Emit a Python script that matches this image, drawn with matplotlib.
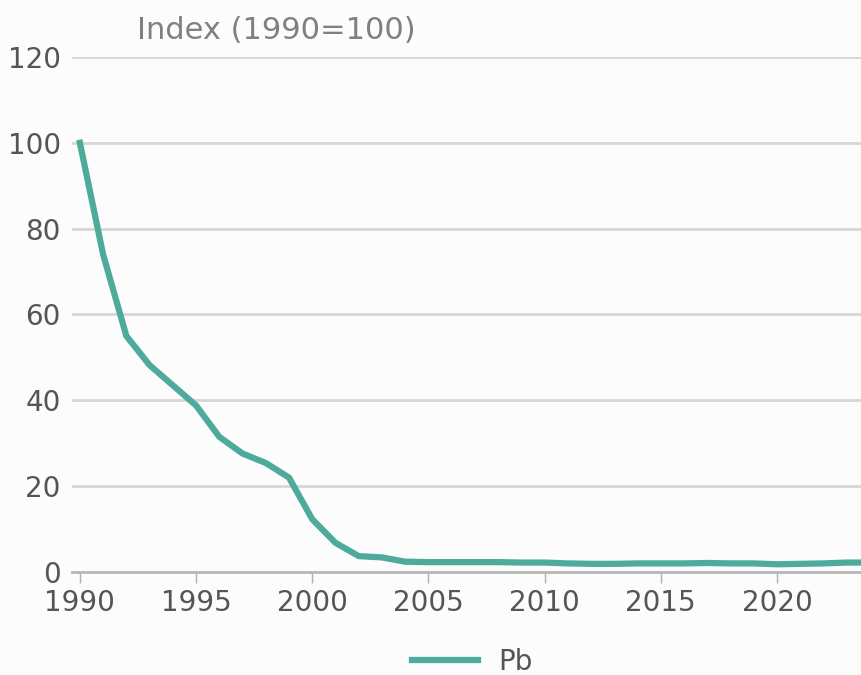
import matplotlib.pyplot as plt

years = list(range(1990, 2025))
pb = [100, 74, 55, 48.2, 43.5, 38.8, 31.5, 27.6, 25.4, 22, 12.3, 6.8, 3.7, 3.4, 2.4,
      2.3, 2.3, 2.3, 2.3, 2.2, 2.2, 2.0, 1.9, 1.9, 2.0, 2.0, 2.0, 2.1, 2.0, 2.0,
      1.8, 1.9, 2.0, 2.2, 2.2]
yticks = [0, 20, 40, 60, 80, 100, 120]
xticks = [1990, 1995, 2000, 2005, 2010, 2015, 2020]

bg = "#fcfcfc"
teal = "#4eab9b"

fig = plt.figure(figsize=(8.61, 6.75), dpi=100, facecolor=bg)
ax = fig.add_axes([0.0836, 0.1526, 0.9164, 0.763], facecolor=bg)

ax.plot(years, pb, color=teal, lw=4.5, solid_joinstyle="round", label="Pb", zorder=3)

ax.set_xlim(1989.66, 2023.62)
ax.set_ylim(0, 120)
ax.set_yticks(yticks)
ax.set_xticks(xticks)
ax.grid(axis="y", color="#d6d6d6", lw=2)
ax.set_axisbelow(True)
for s in ["top", "right", "left"]:
    ax.spines[s].set_visible(False)
ax.spines["bottom"].set_color("#b8b8b8")
ax.spines["bottom"].set_linewidth(2)
ax.tick_params(axis="y", length=0, pad=8, labelsize=20, labelcolor="#555555")
ax.tick_params(axis="x", length=8, width=1, color="#b0b0b0", pad=4,
               labelsize=20, labelcolor="#555555")

fig.text(0.159, 0.955, "Index (1990=100)", fontsize=22, color="#808080",
         ha="left", va="center")

ax.legend(loc="center", bbox_to_anchor=(0.507, -0.175), frameon=False,
          fontsize=20, labelcolor="#555555", handlelength=2.4, handletextpad=0.7)

fig.savefig("out.png", dpi=100, facecolor=bg)
